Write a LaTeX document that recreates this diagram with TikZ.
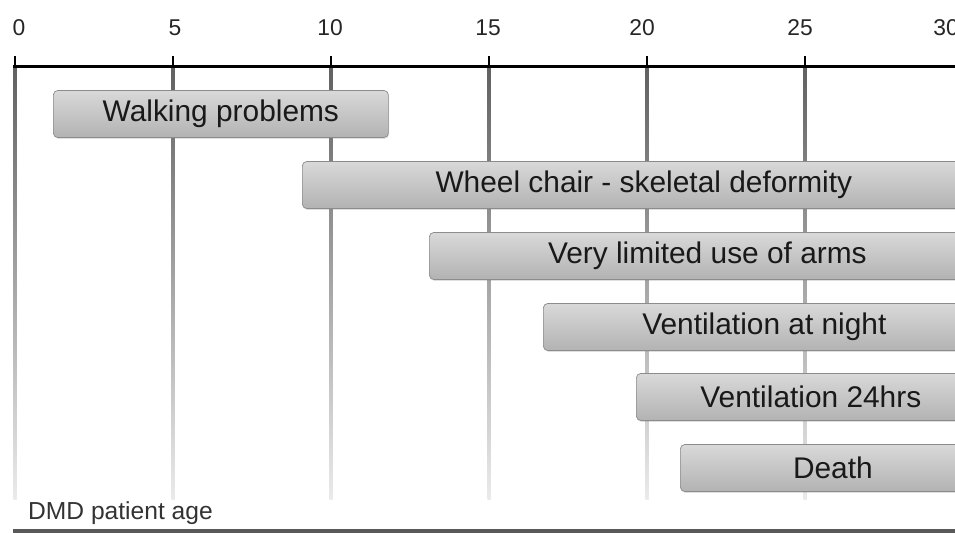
\documentclass[tikz,border=0pt]{standalone}
\usepackage{fontspec}
\setmainfont{Liberation Sans}
\usetikzlibrary{shadows}
\tikzset{
  bar/.style={draw=black!45, rounded corners=2.5pt, top color=black!15, middle color=black!22, bottom color=black!30,
    minimum height=0.94cm, inner sep=0pt, anchor=west, font=\fontsize{17}{20}\selectfont, text=black!90,
    drop shadow={opacity=0.25, shadow xshift=0.4pt, shadow yshift=-0.8pt}},
  ticklabel/.style={font=\fontsize{13}{15}\selectfont, text=black!85}
}

\begin{document}
\begin{tikzpicture}[x=0.02cm, y=0.02cm]
\useasboundingbox (0,0) rectangle (955,533);
\clip (0,0) rectangle (955,533);

\foreach \a/\lx in {0/19,5/175,10/330,15/488,20/642,25/800,30/946}
{
  \shade[top color=black!62, bottom color=black!8] ({15+31.6*\a-1.5},33) rectangle ({15+31.6*\a+1.5},466);
  \draw[line width=0.04cm] ({15+31.6*\a},466) -- ({15+31.6*\a},477);
  \node[ticklabel] (tick\a) at (\lx,505) {\a};
}
\draw[line width=0.06cm] (13,466) -- (955,466);

\foreach \name/\x/\w/\y/\txt in {walk/53/335/419/Walking problems,
  chair/302/683/348/Wheel chair - skeletal deformity,
  arms/429/556/277/Very limited use of arms,
  night/543/442/206/Ventilation at night,
  day/636/349/136/Ventilation 24hrs,
  death/680/305/65/Death}
{
  \node[bar, minimum width=\w*0.02cm] (\name) at (\x,\y) {\txt};
}

\node[anchor=west, font=\fontsize{14}{16}\selectfont, text=black!80] (agelabel) at (22,20) {DMD patient age};
\draw[line width=0.08cm, black!65] (13,2) -- (955,2);
\end{tikzpicture}
\end{document}
